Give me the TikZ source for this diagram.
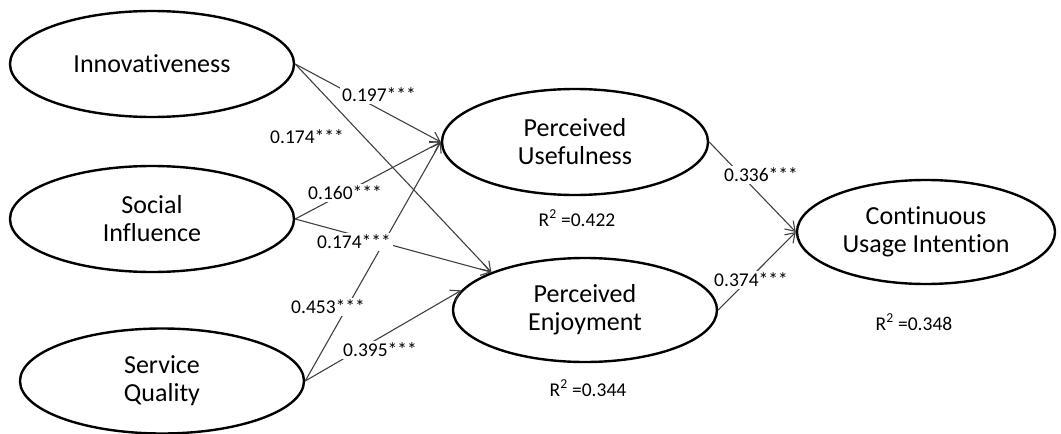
\documentclass[tikz,border=0pt]{standalone}
\usepackage{fontspec}
\setmainfont{Carlito}[Ligatures=CommonOff]
\usetikzlibrary{shapes.geometric, arrows.meta}
\usepackage{xcolor}
\definecolor{PathGray}{HTML}{404040}
\tikzset{
    % Construct ellipses
    latent/.style={
        ellipse,
        draw=black,
        fill=white,
        line width=2.4pt,
        inner sep=0pt,
        align=center,
        font=\fontsize{26}{28}\selectfont
    },
    % Path arrows
    effect/.style={
        -{Straight Barb[length=9pt,width=12pt]},
        line width=1.1pt,
        draw=PathGray
    },
    % Coefficient labels
    coef/.style={
        fill=white,
        inner sep=2pt,
        font=\fontsize{19.5}{22}\selectfont
    },
    rsq/.style={
        font=\fontsize{19.5}{22}\selectfont
    }
}

\begin{document}
\begin{tikzpicture}[x=1pt, y=-1pt]
    \useasboundingbox (0,0) rectangle (1061,434);

    % Exogenous constructs
    \node[latent, minimum width=284pt, minimum height=106pt] (innov) at (152,64) {Innovativeness};
    \node[latent, minimum width=284pt, minimum height=106pt] (social) at (152,219) {Social\\Influence};
    \node[latent, minimum width=284pt, minimum height=105pt] (service) at (162,381) {Service\\Quality};

    % Mediators
    \node[latent, minimum width=266pt, minimum height=106pt] (useful) at (575,142) {Perceived\\Usefulness};
    \node[latent, minimum width=264pt, minimum height=104pt] (enjoy) at (585,310) {Perceived\\Enjoyment};

    % Outcome
    \node[latent, minimum width=258pt, minimum height=104pt] (intent) at (926,232) {Continuous\\Usage Intention};

    % Arrows
    \draw[effect] (innov.east) -- (useful.west);
    \draw[effect] (innov.east) -- (enjoy.158);
    \draw[effect] (social.east) -- (useful.west);
    \draw[effect] (social.east) -- (enjoy.158);
    \draw[effect] (service.east) -- (useful.west);
    \draw[effect] (service.east) -- (enjoy.171);
    \draw[effect] (useful.east) -- (intent.west);
    \draw[effect] (enjoy.east) -- (intent.west);

    % Path coefficients
    \node[coef] (c1) at (379,95) {0.197***};
    \node[coef] (c2) at (307,137) {0.174***};
    \node[coef] (c3) at (345,193) {0.160***};
    \node[coef] (c4) at (354,242) {0.174***};
    \node[coef] (c5) at (328,307) {0.453***};
    \node[coef] (c6) at (380,350) {0.395***};
    \node[coef] (c7) at (761,175) {0.336***};
    \node[coef] (c8) at (751,280) {0.374***};

    % Explained variance
    \node[rsq] (r1) at (577,218) {R\textsuperscript{2} =0.422};
    \node[rsq] (r2) at (588,388) {R\textsuperscript{2} =0.344};
    \node[rsq] (r3) at (914,322) {R\textsuperscript{2} =0.348};
\end{tikzpicture}
\end{document}
